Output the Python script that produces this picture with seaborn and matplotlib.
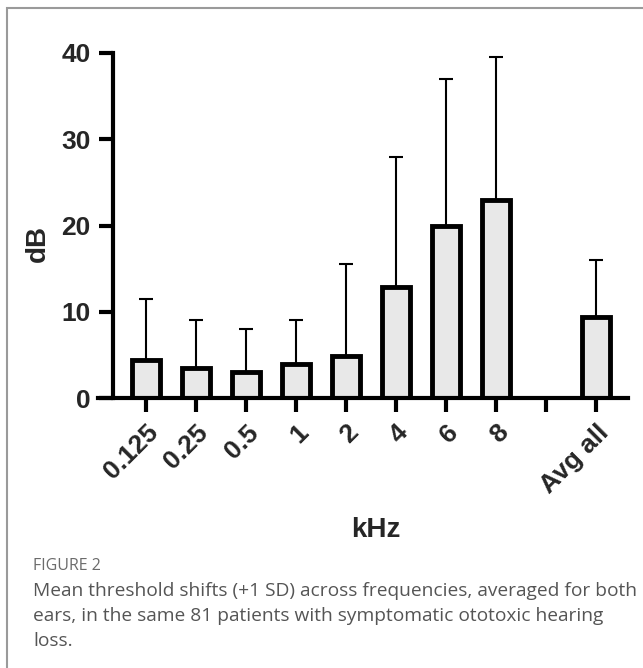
import numpy as np
import pandas as pd
import matplotlib
matplotlib.use("Agg")
import matplotlib.pyplot as plt
from matplotlib.patches import Rectangle
import seaborn as sns

# === Data ===
frequencies = ["0.125", "0.25", "0.5", "1", "2", "4", "6", "8", "Avg all"]
mean_shift = [4.4, 3.5, 3.0, 3.9, 4.9, 12.9, 19.9, 22.9, 9.4]
upper_sd = [11.5, 9.0, 8.0, 9.0, 15.5, 28.0, 37.0, 39.5, 16.0]
# blank slot between 8 kHz and the overall average
order = ["0.125", "0.25", "0.5", "1", "2", "4", "6", "8", " ", "Avg all"]

df = pd.DataFrame({"kHz": frequencies, "dB": mean_shift, "top": upper_sd})
df["sd"] = df["top"] - df["dB"]

sns.set_style("white")
plt.rcParams["font.family"] = ["Liberation Sans", "DejaVu Sans"]

W, H = 643, 668
fig = plt.figure(figsize=(W / 100, H / 100), dpi=100)

# axes placement in pixels
x0, x1 = 98, 628
y_zero, y_top = 398, 53
ax = fig.add_axes([x0 / W, (H - y_zero) / H, (x1 - x0) / W, (y_zero - y_top) / H])

sns.barplot(data=df, x="kHz", y="dB", order=order, ax=ax,
            color="#e8e8e8", edgecolor="black", linewidth=3.5,
            width=0.56, errorbar=None, saturation=1)

# upper-only error bars (+1 SD)
pos = [order.index(f) for f in df["kHz"]]
ax.errorbar(pos, df["dB"], yerr=[np.zeros(len(df)), df["sd"]], fmt="none",
            ecolor="black", elinewidth=1.5, capsize=5, capthick=1.5, zorder=1)

step = (x1 - x0) / 10.6
ax.set_xlim(-(146 - x0) / step, 9 + (x1 - 596) / step)
ax.set_ylim(0, 40)
ax.set_yticks([0, 10, 20, 30, 40])

for s in ["top", "right"]:
    ax.spines[s].set_visible(False)
ax.spines["left"].set_position(("axes", (113 - x0) / (x1 - x0)))
for s in ["left", "bottom"]:
    ax.spines[s].set_linewidth(3)
    ax.spines[s].set_color("black")
    ax.spines[s].set_capstyle("projecting")

ax.tick_params(axis="both", length=10, width=3, color="black", direction="out",
               labelsize=19, pad=6, left=True, bottom=True)
for lab in ax.get_yticklabels():
    lab.set_fontweight("bold")
ax.set_xticks(range(len(order)))
ax.set_xticklabels(order, rotation=45, ha="right", rotation_mode="anchor",
                   fontweight="bold", fontsize=19)

ax.set_xlabel("")
ax.set_ylabel("")
fig.text(38 / W, 1 - 244 / H, "dB", rotation=90, ha="center", va="center",
         fontsize=20, fontweight="bold")
fig.text(376 / W, 1 - 530 / H, "kHz", ha="center", va="center",
         fontsize=20, fontweight="bold")

# caption
cap_font = ["Open Sans", "DejaVu Sans"]
fig.text(33 / W, 1 - 566 / H, "FIGURE 2", ha="left", va="center",
         fontsize=11.5, color="#6b6b6b", family=cap_font, fontweight="medium")
caption = ["Mean threshold shifts (+1 SD) across frequencies, averaged for both",
           "ears, in the same 81 patients with symptomatic ototoxic hearing",
           "loss."]
for i, line in enumerate(caption):
    fig.text(33 / W, 1 - (591 + 25 * i) / H, line, ha="left", va="center",
             fontsize=13.8, color="#555555", family=cap_font)

# grey panel frame (left and top edges visible)
fig.add_artist(Rectangle((7 / W, -0.1), 1.2, 1.1 - 8 / H, transform=fig.transFigure,
                         fill=False, edgecolor="#9a9a9a", linewidth=1.5, clip_on=False))

fig.savefig("out.png", dpi=100)
